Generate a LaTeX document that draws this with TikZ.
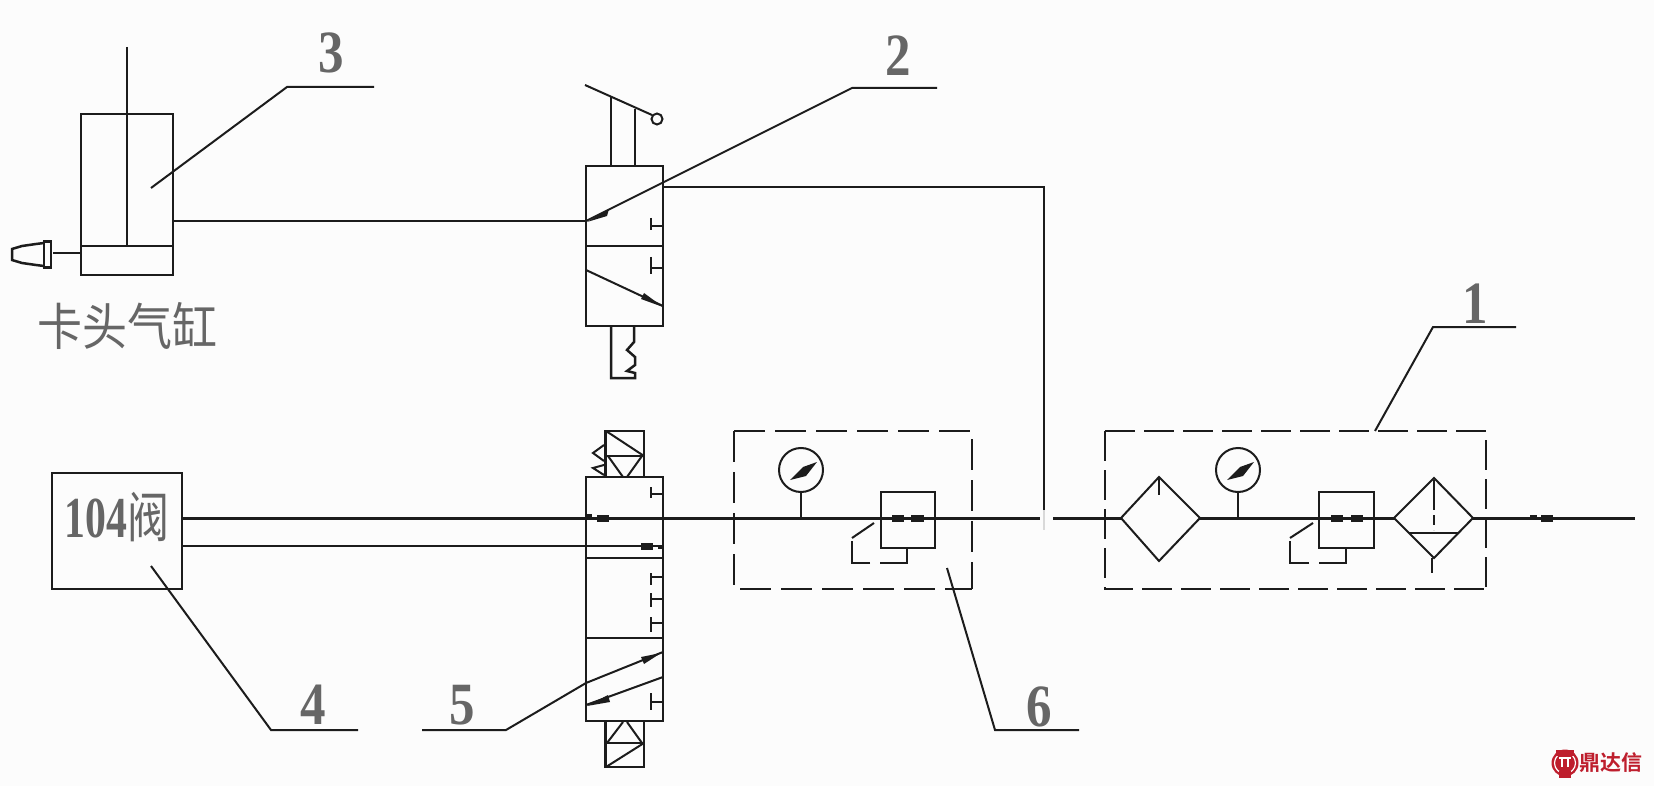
\documentclass[tikz,border=0pt]{standalone}
\usepackage{fontspec}
\setmainfont{Liberation Serif}
\newfontfamily\cjk{Noto Sans CJK SC}
\newfontfamily\cjkbold[BoldFont={Noto Sans CJK SC Bold}]{Noto Sans CJK SC}
\definecolor{inkline}{HTML}{1C1C1C}
\definecolor{inkgrey}{HTML}{666666}
\definecolor{markred}{HTML}{BE1E2D}

\begin{document}
\begin{tikzpicture}[x=1pt,y=-1pt,
    pipe/.style={draw=inkline,line width=2.5pt},
    thinpipe/.style={draw=inkline,line width=2pt},
    leader/.style={draw=inkline,line width=2pt},
    blockmark/.style={draw=inkline,line width=7pt},
    headmark/.style={fill=inkline},
    dashbox/.style={draw=inkline,line width=2.5pt,dash pattern=on 31pt off 10pt},
    unitbox/.style={draw=inkline,line width=2.5pt,inner sep=0pt,outer sep=0pt},
    bignum/.style={text=inkgrey,font=\bfseries\fontsize{60}{60}\selectfont,inner sep=0pt}]

\fill[white!99!black] (0,0) rectangle (1654,786);
\useasboundingbox (0,0) rectangle (1654,786);

% Cylinder
\node[unitbox,minimum width=92pt,minimum height=161pt] (cyl) at (127,194.5) {};
\coordinate (cylport) at (173,221);
\coordinate (nozzle) at (53,253);
\draw[pipe] (81,246) -- (173,246);
\draw[pipe] (127,47) -- (127,246);
\draw[pipe] (nozzle) -- (81,253);
\draw[pipe] (44,243) -- (36,244) -- (22,246) -- (12,249) -- (12,260) -- (22,263) -- (36,265) -- (44,266);
\draw[pipe] (44,241.5) rectangle (51,267.5);
\node[text=inkgrey,font=\cjk\fontsize{45}{45}\selectfont,inner sep=0pt] (cyllabel) at (127,326) {\scalebox{1}[1.12]{卡头气缸}};

% Lever valve
\node[unitbox,minimum width=77pt,minimum height=160pt] (leverv) at (624.5,246) {};
\coordinate (leverin) at (586,221);
\coordinate (leverout) at (663,187);
\draw[pipe] (586,246) -- (663,246);
\draw[pipe] (611,166) -- (611,97);
\draw[pipe] (635,166) -- (635,109);
\draw[thinpipe] (585,85) -- (652,115);
\draw[thinpipe] (657,119) circle (5.5);
\draw[thinpipe] (586,270) -- (663,306);
\fill[headmark] (663,307) -- (644,293) -- (641,299) -- cycle;
\fill[headmark] (587,222) -- (609,209) -- (607,216) -- cycle;
\draw[pipe] (651,218) -- (651,230) (651,226) -- (663,226);
\draw[pipe] (651,257) -- (651,274) (651,268) -- (663,268);
\draw[pipe] (611,326) -- (611,378) -- (635,378) -- (635,373) -- (627,371) -- (635,365)
  -- (635,357) -- (627,350) -- (634,342) -- (634,326);

% Solenoid valve
\node[unitbox,minimum width=77pt,minimum height=244pt] (solv) at (624.5,599) {};
\coordinate (solin1) at (586,518);
\coordinate (solin2) at (586,546);
\coordinate (solout) at (663,518);
\draw[pipe] (586,558) -- (663,558);
\draw[pipe] (586,638) -- (663,638);
\draw[pipe] (651,487) -- (651,498) (651,494) -- (663,494);
\draw[pipe] (651,573) -- (651,585) (651,577) -- (663,577);
\draw[pipe] (651,593) -- (651,607) (651,599) -- (663,599);
\draw[pipe] (651,617) -- (651,632) (651,623) -- (663,623);
\draw[pipe] (651,693) -- (651,710) (651,702) -- (663,702);
\draw[thinpipe] (586,683) -- (663,652);
\draw[thinpipe] (586,705) -- (663,677);
\fill[headmark] (661,653) -- (641,657) -- (644,664) -- cycle;
\fill[headmark] (587,706) -- (608,695) -- (610,702) -- cycle;
\draw[blockmark] (597,518) -- (609,518);
\draw[blockmark] (641,546) -- (653,546);
\draw[blockmark,line width=4pt] (586,516) -- (592,516);
\draw[blockmark,line width=4pt] (658,547) -- (663,547);

% Solenoids
\draw[pipe] (605.5,477) -- (605.5,431) -- (644,431) -- (644,477);
\draw[pipe] (605.5,456) -- (644,456);
\draw[thinpipe] (606,431) -- (644,456);
\draw[thinpipe] (608,456) -- (623,477) (627,477) -- (642,456);
\draw[thinpipe] (604,445) -- (593,453) -- (604,461);
\draw[thinpipe] (604,465) -- (593,468) -- (604,475);
\draw[pipe] (605.5,721) -- (605.5,767) -- (644,767) -- (644,721);
\draw[pipe] (605.5,743) -- (644,743);
\draw[thinpipe] (606,767) -- (644,743);
\draw[thinpipe] (607,743) -- (623,722) (627,722) -- (642,743);

% 104 valve
\node[unitbox,minimum width=130pt,minimum height=116pt] (box104) at (117,531) {};
\coordinate (boxout1) at (182,518);
\coordinate (boxout2) at (182,546);
\node[text=inkgrey,font=\bfseries\fontsize{58}{58}\selectfont,inner sep=0pt] (text104) at (117,517)
  {\scalebox{.72}[1]{104}{\cjk\mdseries\fontsize{42}{42}\selectfont\scalebox{1}[1.3]{阀}}};

% Pipes
\coordinate (joint) at (1044,510);
\coordinate (mainin) at (1053,518);
\coordinate (mainstop) at (1040,518);
\coordinate (mainend) at (1635,518);
\draw[pipe] (cylport) -- (leverin);
\draw[pipe] (leverout) -- (1044,187) -- (joint);
\draw[pipe,line width=3pt] (boxout1) -- (mainstop);
\draw[pipe] (boxout2) -- (663,546);
\draw[pipe,line width=3pt] (mainin) -- (mainend);
\draw[draw=black!15,line width=2pt] (1044,510) -- (1044,530);

% Left dashed unit
\draw[dashbox] (734,431) -- (972,431) -- (972,589);
\draw[dashbox] (734,431) -- (734,589) -- (972,589);
\draw[thinpipe] (801,470) circle (22);
\fill[inkline] (790,480) -- (803,467) -- (817,462) -- (806,476) -- cycle;
\draw[pipe] (801,492) -- (801,518);
\node[unitbox,minimum width=54pt,minimum height=56pt] (reg1) at (908,520) {};
\draw[blockmark] (892,518) -- (904,518);
\draw[blockmark] (911,518) -- (924,518);
\draw[pipe] (907,548) -- (907,563) -- (880,563);
\draw[pipe] (870,563) -- (852,563) -- (852,541);
\draw[thinpipe] (852,538) -- (874,523);

% Right dashed unit
\draw[dashbox,dash pattern=on 30pt off 9pt] (1105,431) -- (1486,431) -- (1486,589);
\draw[dashbox,dash pattern=on 30pt off 9pt] (1105,431) -- (1105,589) -- (1486,589);
\fill[white!99!black,draw=inkline,line width=2pt] (1121,518) -- (1159,477) -- (1200,518) -- (1159,561) -- cycle;
\draw[pipe] (1159,477) -- (1159,495);
\draw[thinpipe] (1238,470) circle (22);
\fill[inkline] (1227,480) -- (1240,467) -- (1254,462) -- (1243,476) -- cycle;
\draw[pipe] (1238,492) -- (1238,518);
\node[unitbox,minimum width=55pt,minimum height=56pt] (reg2) at (1346.5,520) {};
\draw[blockmark] (1331,518) -- (1343,518);
\draw[blockmark] (1351,518) -- (1363,518);
\draw[pipe] (1346,548) -- (1346,563) -- (1319,563);
\draw[pipe] (1309,563) -- (1290,563) -- (1290,541);
\draw[thinpipe] (1290,538) -- (1313,523);
\fill[white!99!black,draw=inkline,line width=2pt] (1394,518) -- (1434,478) -- (1473,518) -- (1434,558) -- cycle;
\draw[pipe,dash pattern=on 30pt off 5pt on 10pt off 5pt] (1434,480) -- (1434,530);
\draw[pipe] (1409,533) -- (1458,533);
\draw[pipe] (1432,558) -- (1432,573);
\draw[blockmark,line width=4pt] (1530,517) -- (1537,517);
\draw[blockmark] (1541,518) -- (1553,518);

% Leaders
\coordinate (tip1) at (1375,431);
\coordinate (knee1) at (1433,327);
\coordinate (end1) at (1516,327);
\coordinate (tip2) at (586,221);
\coordinate (knee2) at (852,88);
\coordinate (end2) at (937,88);
\coordinate (tip3) at (151,188);
\coordinate (knee3) at (287,87);
\coordinate (end3) at (374,87);
\coordinate (tip4) at (151,566);
\coordinate (knee4) at (271,730);
\coordinate (end4) at (358,730);
\coordinate (tip5) at (586,683);
\coordinate (knee5) at (506,730);
\coordinate (end5) at (422,730);
\coordinate (tip6) at (947,568);
\coordinate (knee6) at (995,730);
\coordinate (end6) at (1079,730);
\draw[leader] (tip1) -- (knee1) -- (end1);
\draw[leader] (tip2) -- (knee2) -- (end2);
\draw[leader] (tip3) -- (knee3) -- (end3);
\draw[leader] (tip4) -- (knee4) -- (end4);
\draw[leader] (tip5) -- (knee5) -- (end5);
\draw[leader] (tip6) -- (knee6) -- (end6);

% Numbers
\node[bignum] (num1) at (1475,304) {\scalebox{.85}[1]{1}};
\node[bignum] (num2) at (898,56) {\scalebox{.85}[1]{2}};
\node[bignum] (num3) at (331,53) {\scalebox{.85}[1]{3}};
\node[bignum] (num4) at (313,705) {\scalebox{.85}[1]{4}};
\node[bignum] (num5) at (462,705) {\scalebox{.85}[1]{5}};
\node[bignum] (num6) at (1039,707) {\scalebox{.85}[1]{6}};

% Mark
\fill[markred] (1565,763) circle (13.5);
\draw[white,line width=1.2pt] (1565,763) circle (10.5);
\fill[markred] (1556,750) rectangle (1574,756);
\fill[markred] (1559,771) rectangle (1571,778);
\draw[white,line width=1.4pt] (1559,758) -- (1571,758);
\draw[white,line width=1.4pt] (1562,758) -- (1562,767) (1568,758) -- (1568,767);
\node[text=markred,font=\cjkbold\bfseries\fontsize{21}{21}\selectfont,inner sep=0pt] (marktext) at (1611,763) {鼎达信};

\end{tikzpicture}
\end{document}
